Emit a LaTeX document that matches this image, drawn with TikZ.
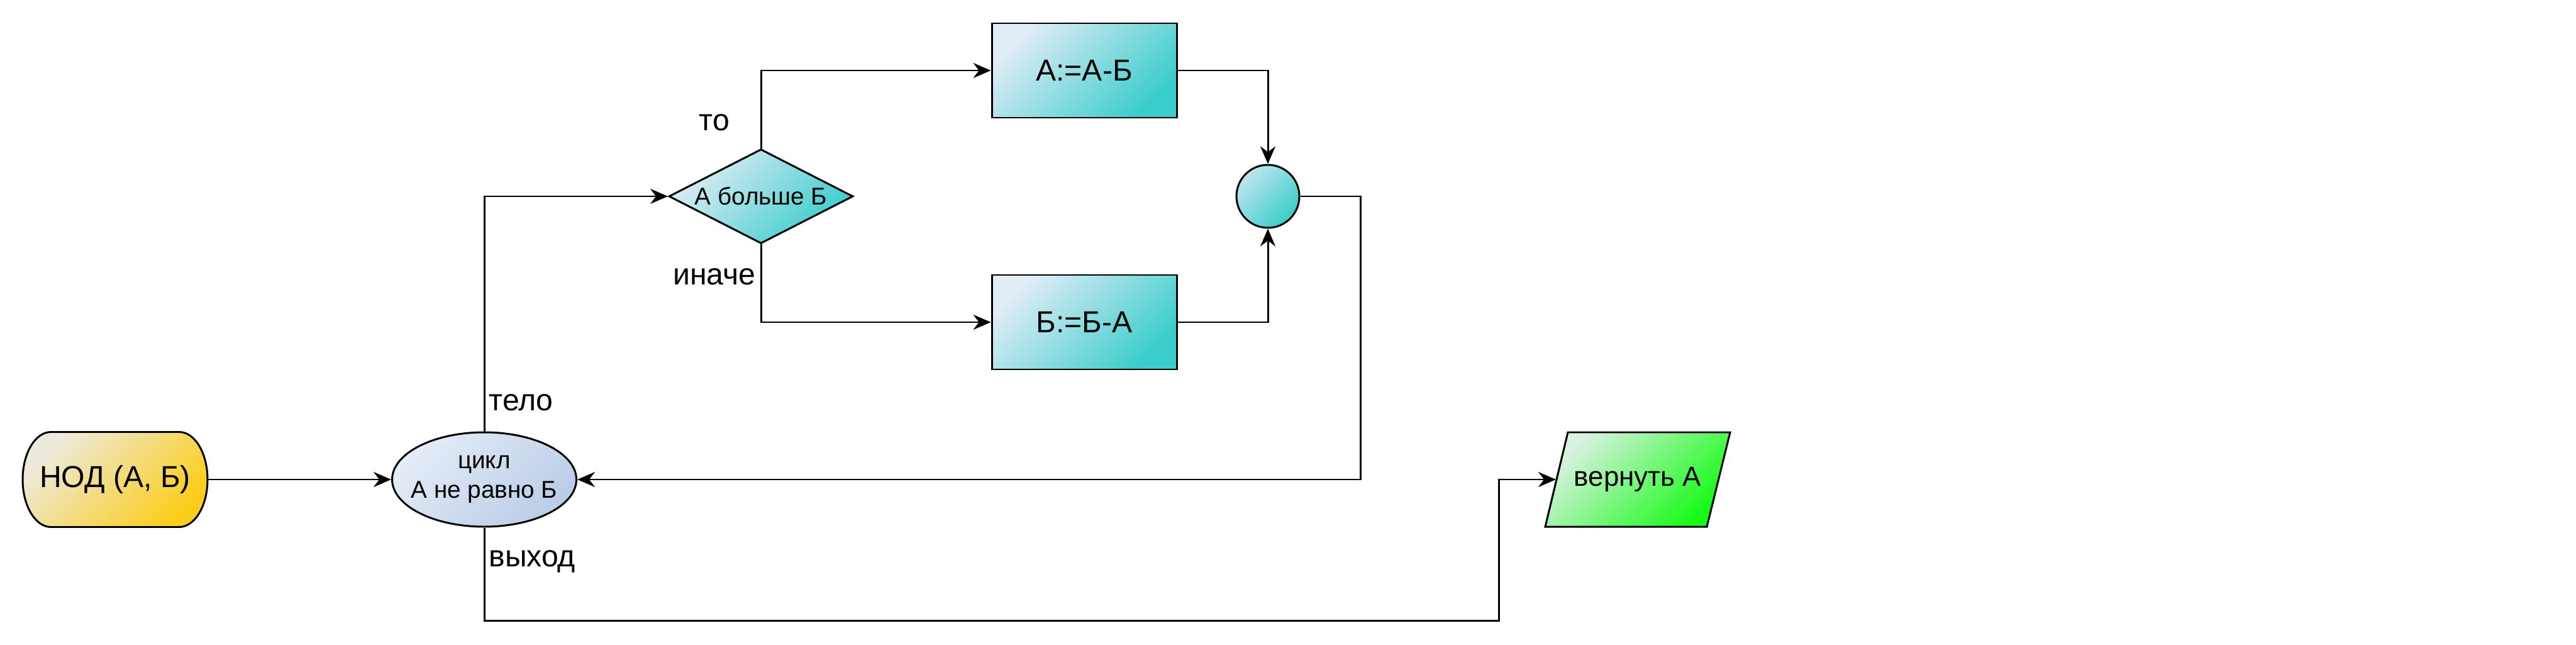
\documentclass[tikz,border=0pt]{standalone}
\usepackage{fontspec}
\setmainfont{Liberation Sans}
\usetikzlibrary{shapes.geometric,arrows.meta}
\definecolor{termA}{RGB}{236,234,222}
\definecolor{termB}{RGB}{252,205,25}
\definecolor{loopA}{RGB}{228,236,247}
\definecolor{loopB}{RGB}{186,204,230}
\definecolor{actA}{RGB}{224,236,246}
\definecolor{actB}{RGB}{58,205,203}
\definecolor{outA}{RGB}{218,242,226}
\definecolor{outB}{RGB}{22,250,22}
\begin{document}
\begin{tikzpicture}[>={Stealth[length=2.8mm,width=2.4mm]},line width=0.85pt,
        base/.style={draw,inner sep=0pt,align=center,font=\fontsize{13.7}{16}\selectfont},
        grad/.style 2 args={top color=#1,bottom color=#2,shading angle=45},
        termbox/.style={inner sep=0pt,minimum width=2.94cm,minimum height=1.51cm,
            font=\fontsize{13.7}{16}\selectfont},
        loopbox/.style={base,ellipse,inner xsep=-0.15cm,minimum width=2.93cm,minimum height=1.5cm,
            font=\fontsize{11}{13.5}\selectfont,grad={loopA}{loopB}},
        condbox/.style={base,diamond,shape aspect=2,minimum width=2.93cm,minimum height=1.5cm,
            font=\fontsize{11}{13}\selectfont,grad={actA}{actB}},
        actbox/.style={base,rectangle,minimum width=2.94cm,minimum height=1.5cm,grad={actA}{actB}},
        joinbox/.style={base,circle,minimum size=1cm,grad={actA!80!actB}{actB}},
        retbox/.style={inner sep=0pt,minimum width=2.57cm,minimum height=1.5cm,
            font=\fontsize{12.5}{15}\selectfont},
        lab/.style={inner sep=0pt,font=\fontsize{13.7}{16}\selectfont}]
    \useasboundingbox (0,0) rectangle (40.96,10.24);
    % outlines of start and return
    \draw[grad={termA}{termB}] (0.81,1.865) -- (2.85,1.865)
        arc[start angle=-90,end angle=90,x radius=0.45,y radius=0.755] -- (0.81,3.375)
        arc[start angle=90,end angle=270,x radius=0.45,y radius=0.755] -- cycle;
    \draw[grad={outA}{outB}] (24.57,1.87) -- (27.14,1.87) -- (27.51,3.37) -- (24.93,3.37) -- cycle;
    % blocks
    \node[termbox] (start) at (1.83,2.62)  {НОД (А, Б)};
    \node[loopbox] (loop)  at (7.70,2.62)  {цикл\\А не равно Б};
    \node[condbox] (cmp)   at (12.10,7.12) {А больше Б};
    \node[actbox]  (subA)  at (17.24,9.12) {А:=А-Б};
    \node[actbox]  (subB)  at (17.24,5.12) {Б:=Б-А};
    \node[joinbox] (merge) at (20.16,7.12) {};
    \node[retbox]  (ret)   at (26.04,2.62) {вернуть А};
    % labels
    \node[lab,anchor=west] (lbody) at (7.76,3.84) {тело};
    \node[lab,anchor=west] (lexit) at (7.76,1.32) {выход};
    \node[lab] (lthen) at (11.36,8.29) {то};
    \node[lab] (lelse) at (11.36,5.84) {иначе};
    % connectors
    \coordinate (back) at (21.63,2.62);
    \coordinate (low)  at (23.83,0.38);
    \draw[->] (start) -- (loop);
    \draw[->] (loop.north) |- (cmp.west);
    \draw[->] (cmp.north) |- (subA.west);
    \draw[->] (cmp.south) |- (subB.west);
    \draw[->] (subA.east) -| (merge.north);
    \draw[->] (subB.east) -| (merge.south);
    \draw[->] (merge.east) -| (back) -- (loop.east);
    \draw[->] (loop.south) |- (low) |- (ret.west);
\end{tikzpicture}
\end{document}
